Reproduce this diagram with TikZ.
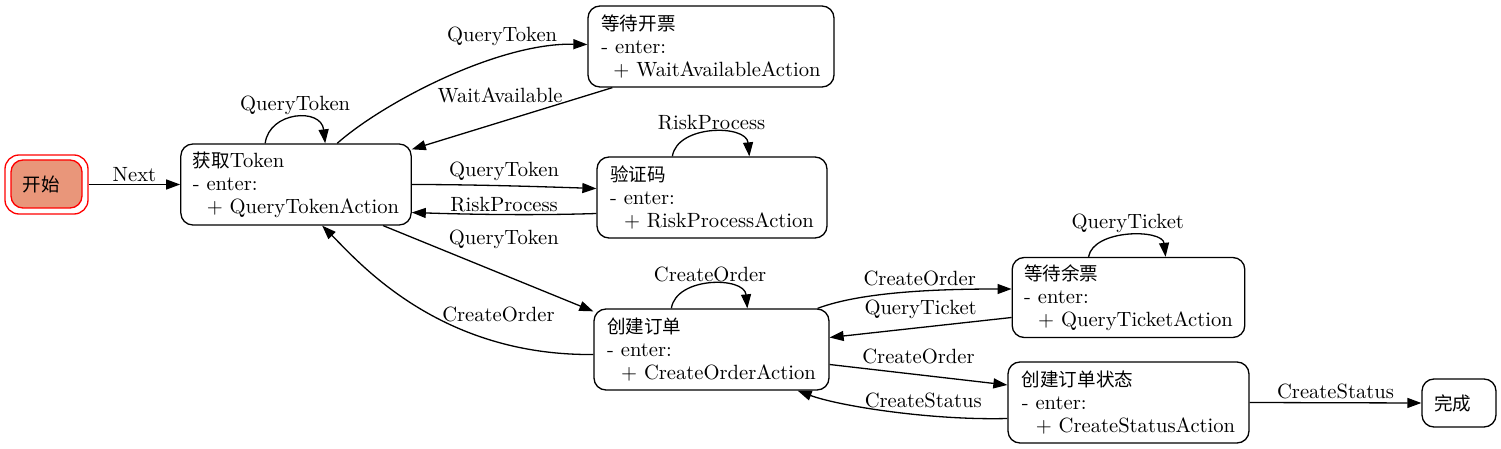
\documentclass[tikz,border=0pt]{standalone}
\usepackage{fontspec}
\newfontfamily\cjk[Scale=0.9]{Noto Sans CJK SC}
\usepackage{xcolor}
\usetikzlibrary{calc}
\usetikzlibrary{arrows.meta}
\definecolor{startfill}{RGB}{233,150,122}

\tikzset{
	stbox/.style={draw,rounded corners=6pt,align=left,inner xsep=6pt,inner ysep=0pt,minimum height=40.5pt,font=\fontsize{10.3pt}{11.5pt}\selectfont},
	trans/.style={-{Triangle[length=7pt,width=5pt]}},
	lbl/.style={inner sep=1pt,font=\fontsize{10.3pt}{12pt}\selectfont},
}

\begin{document}
\begin{tikzpicture}[x=0.5pt,y=-0.5pt,line width=0.65pt]
		\useasboundingbox (0,0) rectangle (1501,449);
		% states
		\node[draw=red,rounded corners=7pt,minimum width=41.5pt,minimum height=29.5pt] (startout) at (46.5,184.5) {};
		\node[stbox,draw=red,fill=startfill,text width=23.5pt,minimum height=24pt] (start) at (46.5,184) {\cjk 开始};
		\node[stbox,minimum width=115pt] (token) at (296,184.5) {{\cjk 获取}Token\\- enter:\\\hspace*{7pt}+ QueryTokenAction};
		\node[stbox,minimum width=123pt] (wait) at (711,46.5) {{\cjk 等待开票}\\- enter:\\\hspace*{6pt}+ WaitAvailableAction};
		\node[stbox,minimum width=115pt] (risk) at (712,197.5) {{\cjk 验证码}\\- enter:\\\hspace*{7pt}+ RiskProcessAction};
		\node[stbox,minimum width=117.5pt] (order) at (711.5,349.5) {{\cjk 创建订单}\\- enter:\\\hspace*{7pt}+ CreateOrderAction};
		\node[stbox,minimum width=115.5pt,minimum height=40pt] (ticket) at (1128.5,297.5) {{\cjk 等待余票}\\- enter:\\\hspace*{7pt}+ QueryTicketAction};
		\node[stbox,minimum width=120.5pt] (status) at (1128.5,402.5) {{\cjk 创建订单状态}\\- enter:\\\hspace*{7pt}+ CreateStatusAction};
		\node[stbox,text width=25pt,minimum height=24pt] (done) at (1459,403) {\cjk 完成};
%
		% transitions
		\draw[trans] (startout.east) -- node[lbl,above] {Next} (token.west);
		\draw[trans] ($(token.north west)+(85,0)$) .. controls +(4,-32) and +(-4,-36) .. node[lbl,above] {QueryToken} ($(token.north west)+(145,0)$);
		\draw[trans] ($(token.north west)+(157,0)$) .. controls +(45,-40) and +(-90,-2) .. node[lbl,pos=0.7,above=4.5pt] {QueryToken} ($(wait.west)+(0,-2)$);
		\draw[trans] ($(wait.south west)+(25,0)$) -- node[lbl,pos=0.56,above=8.5pt] {WaitAvailable} ($(token.north east)+(0,6)$);
		\draw[trans] (token.east) .. controls +(60,0) and +(-60,-2) .. node[lbl,above=1pt] {QueryToken} ($(risk.west)+(0,-9)$);
		\draw[trans] ($(risk.west)+(0,16)$) .. controls +(-60,2) and +(60,2) .. node[lbl,above] {RiskProcess} ($(token.east)+(0,28)$);
		\draw[trans] ($(risk.north west)+(76,0)$) .. controls +(5,-32) and +(-3,-32) .. node[lbl,above] {RiskProcess} ($(risk.north west)+(153,0)$);
		\draw[trans] ($(token.south west)+(203,0)$) -- node[lbl,pos=0.3,above right] {QueryToken} ($(order.north west)+(0,3)$);
		\draw[trans] ($(order.west)+(0,5)$) .. controls +(-154,1.5) and +(37,37) .. node[lbl,pos=0.23,above=9pt] {CreateOrder} ($(token.south west)+(142,0)$);
		\draw[trans] ($(order.north west)+(78,0)$) .. controls +(5,-32) and +(-3,-32) .. node[lbl,above] {CreateOrder} ($(order.north west)+(154,0)$);
		\draw[trans] ($(order.north east)+(-12,0)$) .. controls +(45,-17) and +(-70,0) .. node[lbl,pos=0.57,above=1.5pt] {CreateOrder} ($(ticket.west)+(0,-8.5)$);
		\draw[trans] ($(ticket.west)+(0,20)$) -- node[lbl,above=3pt] {QueryTicket} ($(order.east)+(0,-12)$);
		\draw[trans] ($(ticket.north west)+(77,0)$) .. controls +(5,-28) and +(-3,-28) .. node[lbl,above] {QueryTicket} ($(ticket.north west)+(154,0)$);
		\draw[trans] ($(order.east)+(0,15)$) -- node[lbl,above=4pt] {CreateOrder} ($(status.west)+(0,-17.5)$);
		\draw[trans] ($(status.west)+(0,16)$) .. controls +(-78,2) and +(40,15) .. node[lbl,pos=0.35,above=2.5pt] {CreateStatus} ($(order.south east)+(-32,0)$);
		\draw[trans] (status.east) -- node[lbl,above=0.5pt] {CreateStatus} (done.west);
\end{tikzpicture}
\end{document}
